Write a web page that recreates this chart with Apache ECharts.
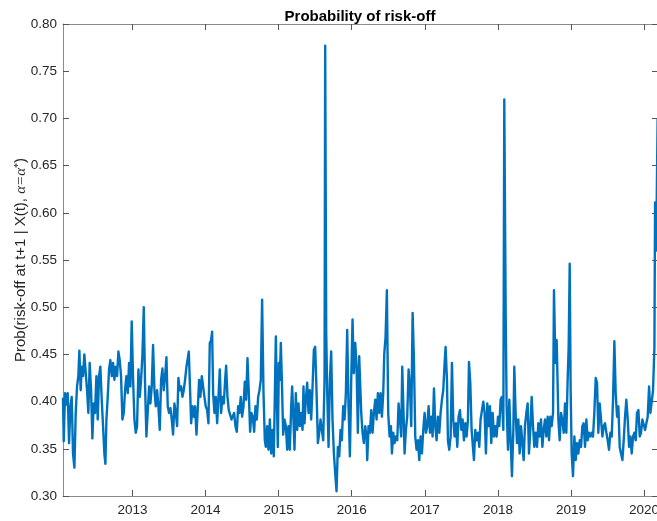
<!DOCTYPE html>
<html>
<head>
<meta charset="utf-8">
<script src="https://cdn.jsdelivr.net/npm/echarts@6/dist/echarts.min.js"></script>
<style>
html,body{margin:0;padding:0;background:#fff;}
#chart{width:657px;height:521px;}
</style>
</head>
<body>
<div id="chart"></div>
<script>
// decimal years of each observation
const years = [
2012.050,2012.060,2012.078,2012.096,2012.114,2012.133,2012.151,2012.169,2012.187,2012.206,
2012.224,2012.242,2012.260,2012.274,2012.292,2012.306,2012.324,2012.342,2012.361,2012.379,
2012.397,2012.415,2012.434,2012.452,2012.470,2012.488,2012.507,2012.525,2012.543,2012.561,
2012.580,2012.598,2012.616,2012.630,2012.644,2012.662,2012.680,2012.698,2012.717,2012.735,
2012.753,2012.771,2012.790,2012.808,2012.826,2012.844,2012.863,2012.881,2012.899,2012.917,
2012.936,2012.954,2012.972,2012.990,2013.009,2013.027,2013.045,2013.063,2013.082,2013.100,
2013.118,2013.136,2013.155,2013.173,2013.191,2013.209,2013.228,2013.246,2013.264,2013.282,
2013.301,2013.319,2013.337,2013.355,
2013.374,2013.392,2013.410,2013.428,2013.447,2013.465,2013.483,2013.501,2013.520,2013.538,
2013.556,2013.574,2013.593,2013.611,2013.629,2013.647,2013.666,2013.684,2013.702,2013.720,
2013.739,2013.757,2013.771,2013.784,2013.803,2013.821,2013.839,2013.857,2013.876,2013.894,
2013.912,2013.930,2013.949,2013.967,2013.985,2014.003,2014.022,2014.040,2014.058,2014.076,
2014.090,2014.104,2014.122,2014.140,2014.159,2014.177,2014.195,2014.213,2014.232,2014.250,
2014.268,2014.282,2014.300,2014.318,2014.336,2014.355,2014.373,2014.391,2014.409,2014.428,
2014.446,2014.464,2014.482,2014.501,2014.519,2014.537,2014.555,2014.574,2014.592,2014.610,
2014.628,2014.647,2014.665,2014.683,2014.701,2014.720,2014.738,2014.756,2014.774,2014.793,
2014.811,
2014.825,2014.843,2014.861,2014.880,2014.898,2014.916,2014.934,2014.953,2014.962,2014.975,
2014.989,2015.003,2015.016,2015.030,2015.044,2015.062,2015.080,2015.099,2015.117,2015.135,
2015.153,2015.172,2015.185,2015.199,2015.217,2015.235,2015.254,2015.272,2015.290,2015.308,
2015.327,2015.340,2015.354,2015.372,2015.391,2015.409,2015.427,2015.445,2015.464,2015.482,
2015.500,2015.518,2015.537,2015.555,2015.573,2015.591,2015.610,2015.628,2015.637,2015.651,
2015.664,2015.683,2015.701,2015.719,2015.737,2015.756,2015.774,2015.792,2015.810,2015.829,
2015.847,2015.865,2015.883,2015.902,2015.920,2015.938,2015.956,2015.975,2015.993,2016.011,
2016.029,2016.048,2016.066,2016.084,2016.102,
2016.130,2016.148,2016.166,2016.185,2016.203,2016.212,2016.230,2016.249,2016.267,2016.285,
2016.303,2016.322,2016.340,2016.358,2016.376,2016.395,2016.413,2016.431,2016.445,2016.463,
2016.481,2016.499,2016.518,2016.536,2016.550,2016.568,2016.586,2016.604,2016.623,2016.641,
2016.659,2016.677,2016.691,2016.709,2016.723,2016.741,2016.759,2016.778,2016.796,2016.814,
2016.833,2016.851,2016.869,2016.887,2016.906,2016.924,2016.942,2016.960,2016.979,2016.997,
2017.015,2017.033,2017.052,2017.070,2017.088,2017.106,2017.125,2017.143,2017.161,2017.179,
2017.198,2017.216,2017.234,2017.252,2017.271,2017.284,2017.303,2017.316,2017.334,2017.353,
2017.371,2017.389,2017.407,2017.426,2017.444,2017.462,
2017.481,2017.499,2017.517,2017.535,2017.554,2017.572,2017.590,2017.604,2017.622,2017.640,
2017.658,2017.672,2017.690,2017.709,2017.727,2017.745,2017.763,2017.782,2017.800,2017.818,
2017.836,2017.855,2017.873,2017.891,2017.909,2017.928,2017.946,2017.964,2017.982,2018.001,
2018.019,2018.037,2018.055,2018.074,2018.087,2018.106,2018.119,2018.138,2018.156,2018.174,
2018.192,2018.211,2018.224,2018.242,2018.261,2018.279,2018.297,2018.316,2018.334,2018.352,
2018.370,2018.389,2018.407,2018.425,2018.443,2018.462,2018.480,2018.498,2018.516,2018.535,
2018.553,2018.571,2018.589,2018.608,2018.626,2018.644,2018.662,2018.681,2018.699,2018.717,
2018.735,2018.754,2018.767,2018.786,2018.804,
2018.827,2018.845,2018.863,2018.881,2018.900,2018.918,2018.936,2018.954,2018.968,2018.982,
2018.995,2019.009,2019.027,2019.046,2019.064,2019.082,2019.100,2019.119,2019.137,2019.155,
2019.173,2019.192,2019.210,2019.228,2019.246,2019.265,2019.283,2019.301,2019.319,2019.338,
2019.356,2019.374,2019.392,2019.411,2019.429,2019.447,2019.465,2019.484,2019.502,2019.520,
2019.538,2019.557,2019.575,2019.593,2019.611,2019.630,2019.648,2019.666,2019.684,2019.703,
2019.721,2019.739,2019.757,2019.776,2019.794,2019.812,2019.830,2019.849,2019.867,2019.885,
2019.903,2019.922,2019.940,2019.958,2019.976,2019.995,2020.013,2020.031,2020.049,2020.068,
2020.086,2020.104,2020.122,2020.141,2020.150,2020.165,2020.185
];

// probability of risk-off at each observation
const probs = [
0.404,0.358,0.409,0.397,0.409,0.356,0.395,0.405,0.345,0.330,
0.388,0.416,0.427,0.454,0.412,0.437,0.427,0.450,0.451,0.412,
0.388,0.441,0.412,0.361,0.398,0.388,0.427,0.381,0.427,0.437,
0.402,0.374,0.345,0.334,0.381,0.405,0.434,0.444,0.427,0.441,
0.423,0.437,0.427,0.453,0.444,0.427,0.381,0.388,0.412,0.427,
0.409,0.441,0.416,0.485,0.423,0.381,0.367,0.374,0.434,0.405,
0.423,0.448,0.500,0.416,0.363,0.363,0.416,0.398,0.416,0.460,
0.412,0.395,0.412,0.395,
0.370,0.423,0.435,0.412,0.427,0.447,0.395,0.388,0.393,0.381,
0.365,0.398,0.388,0.374,0.425,0.412,0.416,0.405,0.412,0.423,
0.437,0.439,0.453,0.423,0.377,0.395,0.384,0.395,0.365,0.393,
0.423,0.405,0.427,0.427,0.405,0.395,0.391,0.377,0.462,0.465,
0.474,0.409,0.388,0.405,0.377,0.405,0.434,0.388,0.405,0.398,
0.423,0.438,0.405,0.391,0.391,0.381,0.381,0.388,0.374,0.368,
0.395,0.388,0.405,0.384,0.395,0.421,0.402,0.446,0.409,0.368,
0.388,0.384,0.368,0.395,0.381,0.405,0.412,0.423,0.508,0.409,
0.359,
0.352,0.374,0.349,0.381,0.345,0.370,0.342,0.430,0.469,0.405,
0.352,0.441,0.423,0.462,0.423,0.365,0.381,0.374,0.349,0.374,
0.349,0.395,0.416,0.388,0.349,0.409,0.370,0.398,0.374,0.388,
0.370,0.416,0.377,0.402,0.420,0.388,0.412,0.381,0.416,0.455,
0.458,0.412,0.356,0.367,0.381,0.370,0.359,0.423,0.777,0.473,
0.412,0.352,0.423,0.453,0.381,0.345,0.324,0.305,0.352,0.342,
0.370,0.359,0.395,0.381,0.409,0.476,0.395,0.342,0.423,0.487,
0.430,0.462,0.437,0.367,0.448,
0.388,0.367,0.356,0.374,0.363,0.338,0.374,0.367,0.391,0.367,
0.388,0.402,0.381,0.409,0.388,0.409,0.384,0.409,0.450,0.469,
0.518,0.388,0.363,0.374,0.345,0.367,0.356,0.363,0.359,0.398,
0.381,0.363,0.437,0.388,0.345,0.370,0.384,0.434,0.416,0.374,
0.494,0.444,0.363,0.349,0.359,0.338,0.363,0.345,0.370,0.388,
0.367,0.374,0.395,0.367,0.384,0.363,0.414,0.374,0.359,0.384,
0.367,0.388,0.402,0.412,0.441,0.458,0.423,0.359,0.349,0.363,
0.441,0.381,0.363,0.377,0.352,0.384,
0.391,0.370,0.381,0.359,0.377,0.363,0.381,0.442,0.420,0.370,
0.352,0.338,0.370,0.359,0.367,0.352,0.381,0.391,0.400,0.388,
0.345,0.398,0.374,0.395,0.356,0.388,0.363,0.374,0.363,0.384,
0.374,0.402,0.405,0.370,0.720,0.494,0.395,0.349,0.402,0.359,
0.321,0.370,0.437,0.388,0.356,0.381,0.345,0.374,0.356,0.338,
0.374,0.388,0.398,0.345,0.370,0.405,0.374,0.352,0.367,0.352,
0.377,0.363,0.381,0.352,0.370,0.381,0.363,0.384,0.359,0.384,
0.374,0.388,0.518,0.441,0.465,
0.381,0.359,0.388,0.381,0.367,0.398,0.367,0.423,0.458,0.546,
0.412,0.345,0.321,0.363,0.338,0.356,0.345,0.359,0.352,0.374,
0.377,0.352,0.381,0.359,0.367,0.363,0.367,0.363,0.388,0.425,
0.420,0.367,0.398,0.381,0.363,0.374,0.377,0.367,0.359,0.349,
0.367,0.363,0.402,0.464,0.409,0.384,0.395,0.352,0.345,0.338,
0.359,0.384,0.402,0.381,0.352,0.363,0.345,0.363,0.367,0.359,
0.388,0.391,0.363,0.367,0.381,0.381,0.370,0.377,0.384,0.416,
0.388,0.388,0.412,0.458,0.611,0.560,0.700
];

const xTickYears = [2013, 2014, 2015, 2016, 2017, 2018, 2019, 2020];
const xMin = 2012.05;
const xMax = 2020.19;
const yMin = 0.30;
const yMax = 0.80;
const yStep = 0.05;

const titleText = 'Probability of risk-off';

const seriesData = years.map((y, i) => [y, probs[i]]);

const FONT = '"Liberation Sans", Arial, Helvetica, sans-serif';
const axisLineStyle = { color: '#8a8a8a', width: 1 };
const tickStyle = { color: '#555', width: 1 };

const chart = echarts.init(document.getElementById('chart'), null, { renderer: 'canvas' });
chart.setOption({
  animation: false,
  backgroundColor: '#ffffff',
  title: {
    text: titleText,
    left: 355,
    textAlign: 'center',
    top: 4,
    textStyle: { fontFamily: FONT, fontSize: 15, fontWeight: 'bold', color: '#000' }
  },
  grid: { left: 63, right: -1, top: 24, bottom: 25, containLabel: false, outerBoundsMode: 'none' },
  xAxis: [
    {
      type: 'value', min: xMin, max: xMax, position: 'bottom',
      axisLine: { show: true, onZero: false, lineStyle: axisLineStyle },
      axisTick: { show: true, inside: true, length: 6, lineStyle: tickStyle, customValues: xTickYears },
      axisLabel: { show: true, customValues: xTickYears, margin: 7, fontFamily: FONT, fontSize: 13.5, color: '#262626',
        formatter: v => String(Math.round(v)) },
      splitLine: { show: false }
    },
    {
      type: 'value', min: xMin, max: xMax, position: 'top',
      axisLine: { show: true, onZero: false, lineStyle: axisLineStyle },
      axisTick: { show: true, inside: true, length: 6, lineStyle: tickStyle, customValues: xTickYears },
      axisLabel: { show: false },
      splitLine: { show: false }
    }
  ],
  yAxis: [
    {
      type: 'value', min: yMin, max: yMax, interval: yStep, position: 'left',
      axisLine: { show: true, onZero: false, lineStyle: axisLineStyle },
      axisTick: { show: true, inside: true, length: 6, lineStyle: tickStyle },
      axisLabel: { margin: 6, fontFamily: FONT, fontSize: 13.5, color: '#262626', formatter: v => v.toFixed(2) },
      splitLine: { show: false },
      name: '{a|Prob(risk-off at t+1 | X(t), }{b|α=α}{c|*}{a|)}',
      nameLocation: 'middle',
      nameGap: 34,
      nameMoveOverlap: false,
      nameRotate: 90,
      nameTextStyle: {
        color: '#262626',
        rich: {
          a: { fontFamily: FONT, fontSize: 15, color: '#262626' },
          b: { fontFamily: '"Liberation Serif", "DejaVu Serif", serif', fontStyle: 'italic', fontSize: 15, color: '#262626' },
          c: { fontFamily: '"Liberation Serif", serif', fontSize: 10, color: '#262626', verticalAlign: 'top', padding: [0, 0, 6, 0] }
        }
      }
    },
    {
      type: 'value', min: yMin, max: yMax, interval: yStep, position: 'right',
      axisLine: { show: true, onZero: false, lineStyle: axisLineStyle },
      axisTick: { show: true, inside: true, length: 6, lineStyle: tickStyle },
      axisLabel: { show: false },
      splitLine: { show: false }
    }
  ],
  series: [{
    type: 'line',
    xAxisIndex: 0,
    yAxisIndex: 0,
    data: seriesData,
    showSymbol: false,
    symbol: 'none',
    clip: true,
    lineStyle: { color: '#0072BD', width: 2.4, join: 'round' },
    itemStyle: { color: '#0072BD' }
  }]
});
</script>
</body>
</html>
